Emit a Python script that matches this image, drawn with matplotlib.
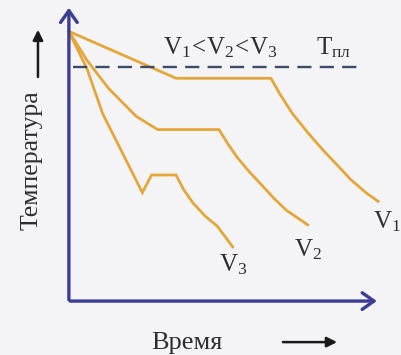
import matplotlib.pyplot as plt

plt.rcParams['font.family'] = ['Liberation Serif', 'DejaVu Serif']
plt.rcParams['mathtext.fontset'] = 'custom'
plt.rcParams['mathtext.rm'] = 'Liberation Serif'

# cooling curves: time vs temperature for three cooling rates
time_v1 = [0, 35, 66, 69, 73, 78, 83, 88, 92, 97, 101]
temp_v1 = [92, 76, 76, 70.5, 64, 57.5, 51.5, 46, 41.5, 37, 34]

time_v2 = [0, 6, 13, 22, 29, 49, 52, 55, 59, 63.5, 67, 71, 78]
temp_v2 = [92, 82, 72.5, 63, 58.5, 58.5, 53.5, 49, 44, 39, 35, 31, 26]

time_v3 = [0, 6, 11, 17.5, 24, 27, 35, 37.5, 40.5, 44.5, 48.5, 53.5]
temp_v3 = [92, 79, 64, 50.5, 37, 43, 43, 38, 33.5, 29, 25.5, 18.5]

t_melt = 80

line_color = '#e3a73a'
axis_color = '#3d3d93'
text_color = '#2e2e2e'

fig = plt.figure(figsize=(4.02, 3.55), dpi=100, facecolor='#f4f4f6')
ax = fig.add_axes([0, 0, 1, 1])
ax.set_facecolor('#f4f4f6')
ax.set_xlim(-22.5, 108.8)
ax.set_ylim(-18.4, 102.7)
ax.axis('off')

for t, temp in [(time_v1, temp_v1), (time_v2, temp_v2), (time_v3, temp_v3)]:
    ax.plot(t, temp, color=line_color, lw=2.0, solid_joinstyle='miter')

# melting temperature
ax.plot([1.5, 96], [t_melt, t_melt], color='#3e4a68', lw=1.7, dashes=(6, 3.5))

# axes with open arrow heads
arrow = dict(arrowstyle='->, head_width=0.6, head_length=0.85', color=axis_color, lw=2.4)
ax.annotate('', xy=(0, 101), xytext=(0, -0.5), arrowprops=arrow)
ax.annotate('', xy=(101.5, 0), xytext=(-0.5, 0), arrowprops=arrow)

small_arrow = dict(arrowstyle='-|>, head_width=0.3, head_length=0.6', color='#1a1a1a', lw=1.8)
ax.text(-12.3, 48, 'Температура', rotation=90, ha='center', va='center',
        fontsize=18.5, color=text_color)
ax.annotate('', xy=(-10.1, 93.5), xytext=(-10.1, 75.5), arrowprops=small_arrow)
ax.text(38.5, -14.3, 'Время', ha='center', va='center', fontsize=19, color=text_color)
ax.annotate('', xy=(88.5, -14), xytext=(69, -14), arrowprops=small_arrow)

ax.text(49.5, 86.3, r'$\mathregular{V_1\!<\!V_2\!<\!V_3}$', ha='center', va='center',
        fontsize=18, color=text_color)
ax.text(86.5, 86.3, r'$\mathregular{T_{пл}}$', ha='center', va='center',
        fontsize=18, color=text_color)

ax.text(108.4, 27, r'$\mathregular{V_1}$', ha='right', va='center', fontsize=18, color=text_color)
ax.text(78, 17.4, r'$\mathregular{V_2}$', ha='center', va='center', fontsize=18, color=text_color)
ax.text(53.8, 12.3, r'$\mathregular{V_3}$', ha='center', va='center', fontsize=18, color=text_color)

fig.savefig('out.png', dpi=100, facecolor=fig.get_facecolor())
